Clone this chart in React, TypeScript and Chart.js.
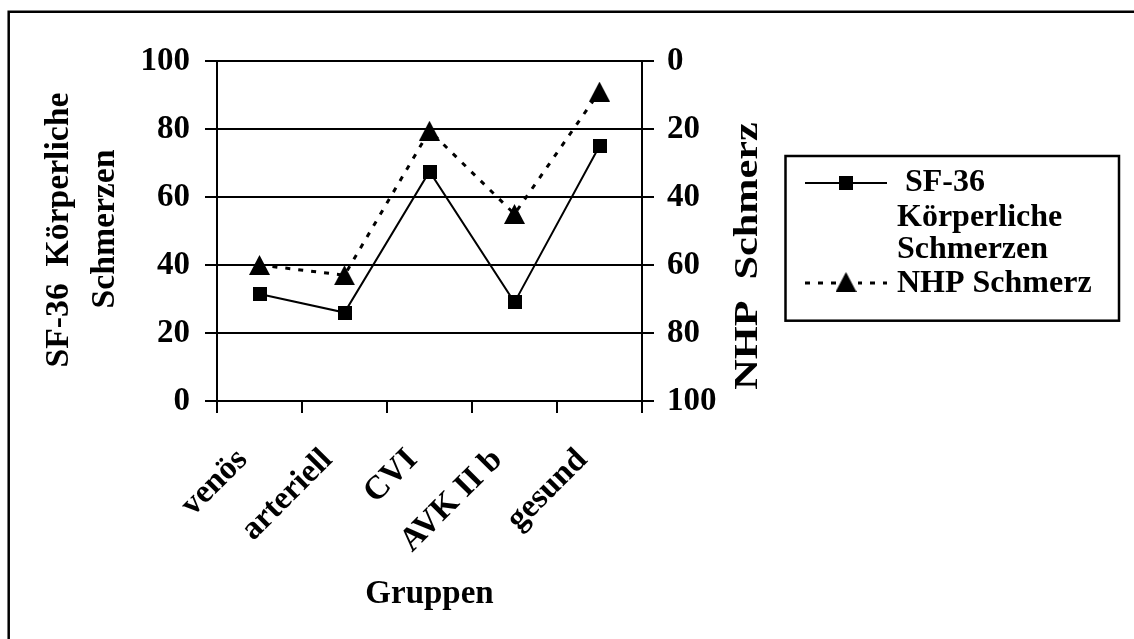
import React, { useEffect, useRef } from "react";
import { Chart, registerables } from "chart.js";

Chart.register(...registerables);

const categories = ["venös", "arteriell", "CVI", "AVK II b", "gesund"];
const sf36Values = [31.5, 26, 67.5, 29, 75];
const nhpValues = [60, 63, 20.5, 45, 9];
const sf36Legend = ["SF-36", "Körperliche", "Schmerzen"];
const nhpLegend = "NHP Schmerz";
const leftTitle = ["SF-36  Körperliche", "Schmerzen"];
const rightTitle = "NHP  Schmerz";
const xTitle = "Gruppen";

const FONT = "'Liberation Serif', 'Times New Roman', serif";
const BOLD33 = `bold 33px ${FONT}`;
const BOLD32 = `bold 32px ${FONT}`;

function makeTriangle(): HTMLCanvasElement {
  const c = document.createElement("canvas");
  c.width = 21;
  c.height = 20;
  const g = c.getContext("2d")!;
  g.fillStyle = "#000";
  g.beginPath();
  g.moveTo(10.5, 0);
  g.lineTo(21, 20);
  g.lineTo(0, 20);
  g.closePath();
  g.fill();
  return c;
}

function makeSquare(): HTMLCanvasElement {
  const c = document.createElement("canvas");
  c.width = 14;
  c.height = 14;
  const g = c.getContext("2d")!;
  g.fillStyle = "#000";
  g.fillRect(0, 0, 14, 14);
  return c;
}

export default function App() {
  const ref = useRef<HTMLCanvasElement>(null);

  useEffect(() => {
    const canvas = ref.current!;
    const tri = makeTriangle();
    const sq = makeSquare();

    const decor = {
      id: "decor",
      afterDraw(chart: any) {
        const ctx = chart.ctx as CanvasRenderingContext2D;
        ctx.save();
        // outer frame (top and left only visible)
        ctx.strokeStyle = "#000";
        ctx.lineWidth = 2.5;
        ctx.beginPath();
        ctx.moveTo(8.7, 639);
        ctx.lineTo(8.7, 11.7);
        ctx.lineTo(1134, 11.7);
        ctx.stroke();

        ctx.fillStyle = "#000";
        ctx.font = BOLD33;
        // x title
        ctx.textAlign = "center";
        ctx.textBaseline = "alphabetic";
        const ca = chart.chartArea;
        ctx.fillText(xTitle, (ca.left + ca.right) / 2, 603);

        const drawRot = (text: string, x: number, y: number, sx: number) => {
          ctx.save();
          ctx.translate(x, y);
          ctx.rotate(-Math.PI / 2);
          ctx.scale(sx, 1);
          ctx.textAlign = "center";
          ctx.textBaseline = "alphabetic";
          ctx.fillText(text, 0, 0);
          ctx.restore();
        };
        drawRot(leftTitle[0], 68, 230, 1.02);
        drawRot(leftTitle[1], 114, 229, 1.02);
        drawRot(rightTitle, 757, 256, 1.28);

        // legend
        ctx.font = BOLD32;
        ctx.lineWidth = 2.5;
        ctx.strokeRect(785.5, 156, 333.5, 164.7);
        ctx.lineWidth = 2;
        ctx.setLineDash([]);
        ctx.beginPath();
        ctx.moveTo(805, 183);
        ctx.lineTo(887, 183);
        ctx.stroke();
        ctx.drawImage(sq, 846 - 7, 183 - 7);
        ctx.lineWidth = 3;
        ctx.setLineDash([5, 8]);
        ctx.beginPath();
        ctx.moveTo(805, 283);
        ctx.lineTo(887, 283);
        ctx.stroke();
        ctx.setLineDash([]);
        ctx.fillStyle = "#fff";
        ctx.fillRect(836, 272, 22, 20);
        ctx.fillStyle = "#000";
        ctx.drawImage(tri, 846 - 10.5, 282 - 10);
        ctx.textAlign = "left";
        ctx.textBaseline = "alphabetic";
        ctx.fillText(sf36Legend[0], 905, 191);
        ctx.fillText(sf36Legend[1], 897, 226);
        ctx.fillText(sf36Legend[2], 897, 258);
        ctx.fillText(nhpLegend, 897, 292);
        ctx.restore();
      },
    };

    const tickFont = { family: FONT, size: 33, weight: "bold" as const };

    const chart = new Chart(canvas, {
      type: "line",
      data: {
        labels: categories,
        datasets: [
          {
            label: sf36Legend.join(" "),
            data: sf36Values,
            yAxisID: "y",
            borderColor: "#000",
            backgroundColor: "#000",
            borderWidth: 2,
            pointStyle: sq as any,
            pointRadius: 7,
            fill: false,
            tension: 0,
          },
          {
            label: nhpLegend,
            data: nhpValues,
            yAxisID: "y1",
            borderColor: "#000",
            backgroundColor: "#000",
            borderWidth: 3,
            borderDash: [5, 8],
            pointStyle: tri as any,
            pointRadius: 10,
            fill: false,
            tension: 0,
          },
        ],
      },
      options: {
        responsive: false,
        animation: false,
        devicePixelRatio: 1,
        layout: { padding: { top: 61, left: 0, right: 0, bottom: 0 } },
        plugins: {
          legend: { display: false },
          tooltip: { enabled: false },
          title: { display: false },
        },
        scales: {
          x: {
            type: "category",
            offset: true,
            grid: {
              offset: true,
              drawOnChartArea: false,
              drawTicks: true,
              tickLength: 12,
              color: "#000",
              lineWidth: 2,
            },
            border: { display: true, color: "#000", width: 2 },
            ticks: {
              autoSkip: false,
              maxRotation: 45,
              minRotation: 45,
              color: "#000",
              font: tickFont,
              padding: 28,
              labelOffset: -17,
            },
            afterFit(scale: any) {
              scale.height = 238;
            },
          },
          y: {
            position: "left",
            min: 0,
            max: 100,
            ticks: { stepSize: 20, color: "#000", font: tickFont, padding: 15 },
            grid: {
              color: "#000",
              lineWidth: 2,
              drawTicks: true,
              tickLength: 12,
            },
            border: { display: true, color: "#000", width: 2 },
            afterFit(scale: any) {
              scale.width = 217;
            },
          },
          y1: {
            position: "right",
            min: 0,
            max: 100,
            reverse: true,
            ticks: { stepSize: 20, color: "#000", font: tickFont, padding: 13 },
            grid: {
              drawOnChartArea: false,
              color: "#000",
              lineWidth: 2,
              drawTicks: true,
              tickLength: 12,
            },
            border: { display: true, color: "#000", width: 2 },
            afterFit(scale: any) {
              scale.width = 1134 - 642;
            },
          },
        },
      },
      plugins: [decor],
    });

    return () => chart.destroy();
  }, []);

  return (
    <div style={{ position: "absolute", left: 0, top: 0, width: 1134, height: 639, background: "#fff" }}>
      <canvas ref={ref} width={1134} height={639} style={{ display: "block" }} />
    </div>
  );
}
